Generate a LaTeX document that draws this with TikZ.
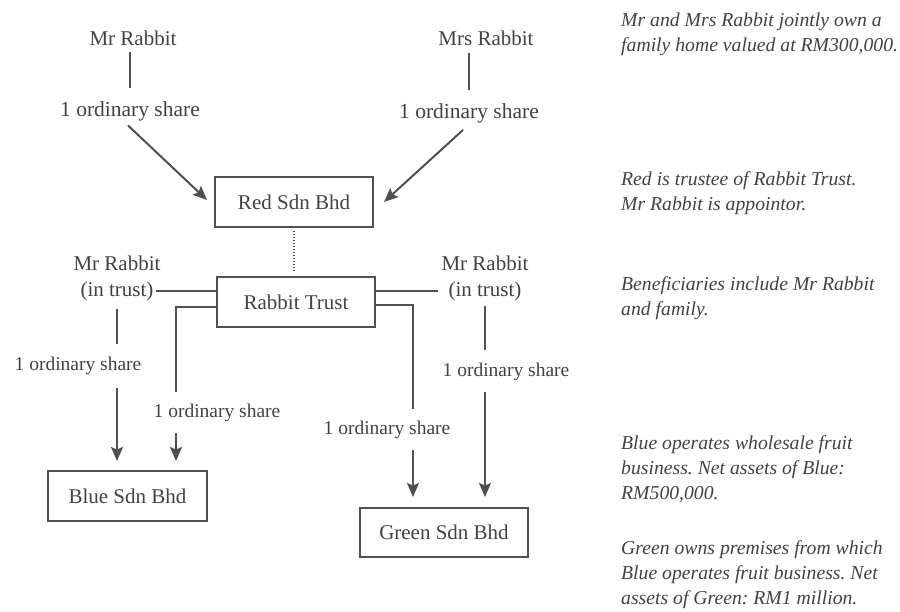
\documentclass[tikz,border=0pt]{standalone}
\usepackage{fontspec}
\setmainfont{Liberation Serif}
\usetikzlibrary{arrows.meta}
\definecolor{ink}{RGB}{66,66,66}
\definecolor{rule}{RGB}{80,80,80}
\frenchspacing
\begin{document}
\begin{tikzpicture}[x=1pt,y=-1pt,
  lbl/.style={inner sep=0pt, text=ink, font=\fontsize{21}{25}\selectfont},
  toplbl/.style={inner sep=0pt, text=ink, font=\fontsize{21.5}{25}\selectfont},
  smalllbl/.style={inner sep=0pt, text=ink, font=\fontsize{19.5}{24}\selectfont},
  entity/.style={draw=rule, line width=2pt, minimum width=158pt, minimum height=50pt, inner sep=0pt, text=ink, font=\fontsize{21}{25}\selectfont},
  note/.style={inner sep=0pt, anchor=north west, align=left, text=ink, font=\fontsize{19.7}{25}\selectfont\itshape},
  link/.style={draw=rule, line width=2pt},
  arr/.style={link, -{Stealth[length=14pt, width=12pt, inset=2.5pt]}},
  dots/.style={draw=rule, line width=2.2pt, dash pattern=on 1.5pt off 1.5pt},
]
\useasboundingbox (0,0) rectangle (900,612);

% top owners
\node[lbl] (mr) at (133,38.5) {Mr Rabbit};
\node[lbl] (mrs) at (486,38.5) {Mrs Rabbit};
\node[toplbl] (lblA) at (130,111) {1 ordinary share};
\node[toplbl] (lblB) at (469,113) {1 ordinary share};

% entities
\node[entity] (red) at (294,202) {Red Sdn Bhd};
\node[entity] (trust) at (296,302) {Rabbit Trust};
\node[entity, minimum width=159pt] (blue) at (127.5,496) {Blue Sdn Bhd};
\node[entity, minimum width=168pt, minimum height=49pt] (green) at (444,532.5) {Green Sdn Bhd};

% nominee holders
\node[lbl] (lmr) at (117,263) {Mr Rabbit};
\node[lbl] (lint) at (117,291) {(in trust)};
\node[lbl] (rmr) at (485,263) {Mr Rabbit};
\node[lbl] (rint) at (485,291) {(in trust)};

% lower share labels
\node[smalllbl] (lblC) at (78,366) {1 ordinary share};
\node[smalllbl] (lblD) at (217,413) {1 ordinary share};
\node[smalllbl] (lblE) at (506,372) {1 ordinary share};
\node[smalllbl] (lblF) at (387,430) {1 ordinary share};

\coordinate (bluejoin) at (176,392);
\coordinate (greenjoin) at (413,409);

% top connectors
\draw[link, shorten <=6pt, shorten >=13pt] (lblA.north |- mr.south) -- (lblA.north);
\draw[link, shorten <=7pt, shorten >=13pt] (lblB.north |- mrs.south) -- (lblB.north);
\draw[arr] ([xshift=-2pt,yshift=-4.5pt]lblA.south) -- ([xshift=-7pt,yshift=2pt]red.west);
\draw[arr] ([xshift=-6pt,yshift=-7pt]lblB.south) -- ([xshift=10pt]red.east);

% trustee link
\draw[dots, shorten <=3pt, shorten >=4pt] (red.south) -- (red.south |- trust.north);

% left side
\draw[link, shorten <=2pt] (lint.east) -- (lint.east -| trust.west);
\draw[link, shorten <=8pt, shorten >=13pt] (lint.south) -- (lint.south |- lblC.north);
\draw[arr, shorten <=13pt, shorten >=9pt] (lint.south |- lblC.south) -- (lint.south |- blue.north);
\draw[link] ([yshift=-5pt]trust.west) -| (bluejoin);
\draw[arr, shorten <=11pt, shorten >=9pt] (bluejoin |- lblD.south) -- (bluejoin |- blue.north);

% right side
\draw[link, shorten >=10pt] (trust.east |- rint.west) -- (rint.west);
\draw[link, shorten <=5pt, shorten >=13pt] (rint.south) -- (rint.south |- lblE.north);
\draw[arr, shorten <=11pt, shorten >=10pt] (rint.south |- lblE.south) -- (rint.south |- green.north);
\draw[link] ([yshift=-3pt]trust.east) -| (greenjoin);
\draw[arr, shorten <=11pt, shorten >=10pt] (greenjoin |- lblF.south) -- (greenjoin |- green.north);

% notes
\node[note] (n1) at (621,13) {Mr and Mrs Rabbit jointly own a\\family home valued at RM300,000.};
\node[note] (n2) at (621,171.5) {Red is trustee of Rabbit Trust.\\Mr Rabbit is appointor.};
\node[note] (n3) at (621,276.5) {Beneficiaries include Mr Rabbit\\and family.};
\node[note] (n4) at (621,435.5) {Blue operates wholesale fruit\\business. Net assets of Blue:\\RM500,000.};
\node[note] (n5) at (621,540.5) {Green owns premises from which\\Blue operates fruit business. Net\\assets of Green: RM1 million.};
\end{tikzpicture}
\end{document}
